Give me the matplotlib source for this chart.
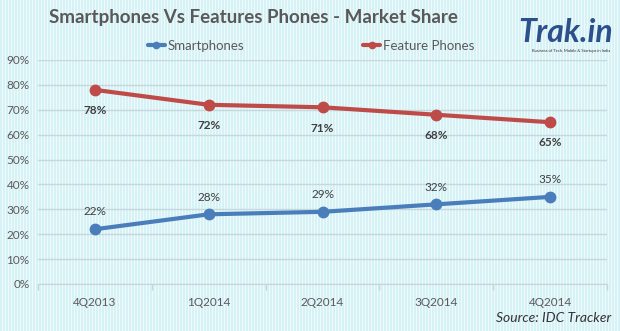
import numpy as np
import matplotlib.pyplot as plt
from matplotlib.colors import to_rgb

quarters = ['4Q2013', '1Q2014', '2Q2014', '3Q2014', '4Q2014']
smartphones = [22, 28, 29, 32, 35]
feature_phones = [78, 72, 71, 68, 65]
y_ticks = [0, 10, 20, 30, 40, 50, 60, 70, 80, 90]

plt.rcParams['font.family'] = ['Lato', 'DejaVu Sans']

W, H = 620, 331
fig = plt.figure(figsize=(W / 100, H / 100), dpi=100)

# pinstriped light cyan background
c1 = np.array(to_rgb('#d6f2f7'))
c2 = np.array(to_rgb('#eefafc'))
stripe = np.array([c1, c1, c2])
cols = np.array([stripe[i % 3] for i in range(W)])
bg = np.tile(cols[None, :, :], (H, 1, 1))
fig.figimage(bg, xo=0, yo=0, zorder=-10)

ax = fig.add_axes([38 / W, 1 - 284 / H, (607 - 38) / W, (284 - 60) / H])
ax.patch.set_alpha(0)

x = np.arange(len(quarters))
blue = '#4a7ebb'
red = '#be4b48'
ax.plot(x, smartphones, color=blue, lw=3, marker='o', ms=7.5, label='Smartphones',
        solid_capstyle='round', zorder=3)
ax.plot(x, feature_phones, color=red, lw=3, marker='o', ms=7.5, label='Feature Phones',
        solid_capstyle='round', zorder=3)

for xi, v in zip(x, smartphones):
    ax.annotate(f'{v}%', (xi, v), xytext=(0, 8.5), textcoords='offset points',
                ha='center', va='bottom', fontsize=8.5, color='#404040')
for xi, v in zip(x, feature_phones):
    ax.annotate(f'{v}%', (xi, v), xytext=(0, -11), textcoords='offset points',
                ha='center', va='top', fontsize=8.5, color='#404040', fontweight='bold')

ax.set_xlim(-0.5, len(quarters) - 0.5)
ax.set_ylim(0, 90)
ax.set_yticks(y_ticks)
ax.set_yticklabels([f'{t}%' for t in y_ticks])
ax.set_xticks(x)
ax.set_xticklabels(quarters)
ax.set_xticks(np.arange(-0.5, len(quarters)), minor=True)
ax.tick_params(axis='y', length=0, labelsize=8.5, labelcolor='#595959', pad=6)
ax.tick_params(axis='x', which='major', length=0, labelsize=8.5, labelcolor='#595959', pad=9)
ax.tick_params(axis='x', which='minor', length=4, color='#c5d5d8', width=1)
ax.grid(axis='y', color='#c5d8dc', lw=1)
for s in ['top', 'right', 'left']:
    ax.spines[s].set_visible(False)
ax.spines['bottom'].set_color('#c5d5d8')

fig.text(253 / W, 1 - 18 / H, 'Smartphones Vs Features Phones - Market Share',
         ha='center', va='center', fontsize=13.5, fontweight='bold', color='#595959')

leg = fig.legend(loc='center', bbox_to_anchor=(311 / W, 1 - 46 / H), ncol=2,
                 frameon=False, fontsize=9.5, handlelength=1.3, columnspacing=9,
                 handletextpad=0.2, markerscale=0.6)
for t in leg.get_texts():
    t.set_color('#595959')

fig.text(613 / W, 1 - 32 / H, 'Trak.in', ha='right', va='center', fontsize=23,
         fontweight='bold', style='italic', color='#2d4f8c')
fig.text(610 / W, 1 - 51 / H, 'Business of Tech, Mobile & Startups in India',
         ha='right', va='center', fontsize=3, color='#333333')

fig.text(611 / W, 1 - 318 / H, 'Source: IDC Tracker', ha='right', va='center',
         fontsize=10, style='italic', color='#333333')

fig.savefig('out.png', dpi=100)
